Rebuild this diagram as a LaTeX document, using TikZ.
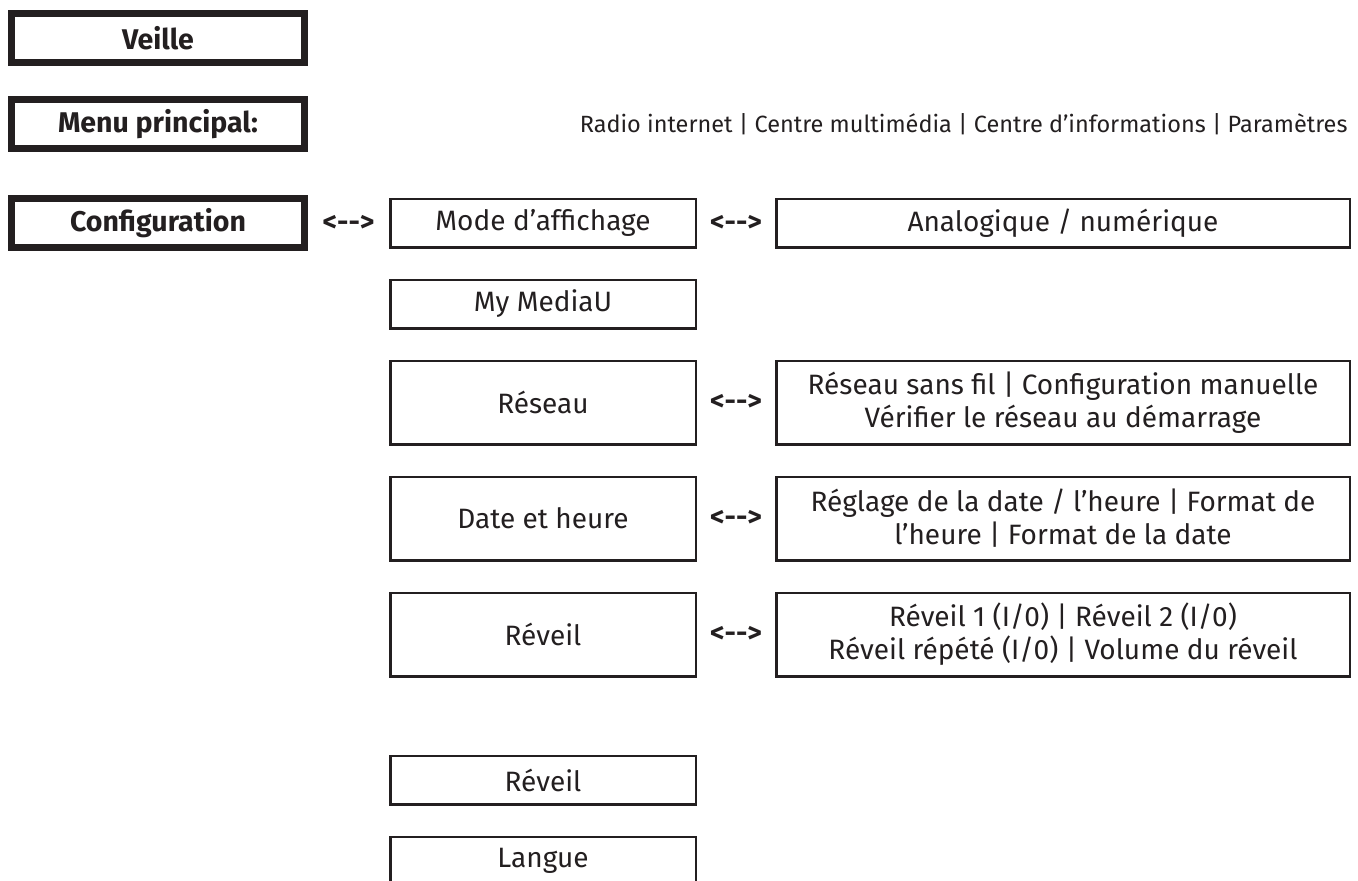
\documentclass[tikz,border=0pt]{standalone}
\usepackage{fontspec}
\setmainfont{Fira Sans}
\usepackage{tikz}
\usetikzlibrary{positioning, calc}
\definecolor{ink}{HTML}{231F20}

\begin{document}
\begin{tikzpicture}[
    x=1pt, y=-1pt,
    node distance=30pt and 78pt,
    font=\fontsize{28}{33}\selectfont,
    text=ink,
    mainbox/.style={rectangle, draw=ink, line width=7pt, fill=white, align=center, minimum width=293pt, minimum height=49pt, inner sep=2pt, font=\fontsize{28.5}{33}\selectfont\bfseries},
    subbox/.style={rectangle, draw=ink, line width=2.5pt, fill=white, align=center, minimum width=305.5pt, minimum height=48.5pt, inner sep=2pt},
    widebox/.style={subbox, minimum width=573.5pt, minimum height=83.5pt},
    bothway/.style={inner sep=0pt, font=\fontsize{28}{33}\selectfont\bfseries}
]
\useasboundingbox (0,0) rectangle (1358,881);

% Left column
\node[mainbox] (veille) at (158,38) {Veille};
\node[mainbox, below=30pt of veille] (menu) {Menu principal:};
\node[mainbox, below=43pt of menu] (config) {Configuration};

% Configuration entries
\node[subbox, right=81pt of config] (mode) {Mode d'affichage};
\node[widebox, minimum height=48.5pt, right=of mode] (analog) {Analogique / numérique};

\node[subbox, below=of mode] (media) {My MediaU};

\node[subbox, minimum height=83.5pt, below=of media] (reseau) {Réseau};
\node[widebox, right=of reseau] (reseauopt) {Réseau sans fil | Configuration manuelle\\Vérifier le réseau au démarrage};

\node[subbox, minimum height=83.5pt, below=of reseau] (date) {Date et heure};
\node[widebox, right=of date] (dateopt) {Réglage de la date / l'heure | Format de\\l'heure | Format de la date};

\node[subbox, minimum height=83.5pt, below=of date] (reveil) {Réveil};
\node[widebox, right=of reveil] (reveilopt) {Réveil 1 (I/0) | Réveil 2 (I/0)\\Réveil répété (I/0) | Volume du réveil};

\node[subbox, below=77pt of reveil] (reveilbis) {Réveil};
\node[subbox, below=of reveilbis] (langue) {Langue};

% Main menu items
\node[anchor=east, font=\fontsize{23.5}{28}\selectfont] (items) at (analog.east |- menu) {Radio internet | Centre multimédia | Centre d'informations | Paramètres};

% Links
\foreach \a/\b in {config/mode, mode/analog, reseau/reseauopt, date/dateopt, reveil/reveilopt}
  \node[bothway] at ($(\a.east)!0.5!(\b.west)$) {<-{}->};

\end{tikzpicture}
\end{document}
